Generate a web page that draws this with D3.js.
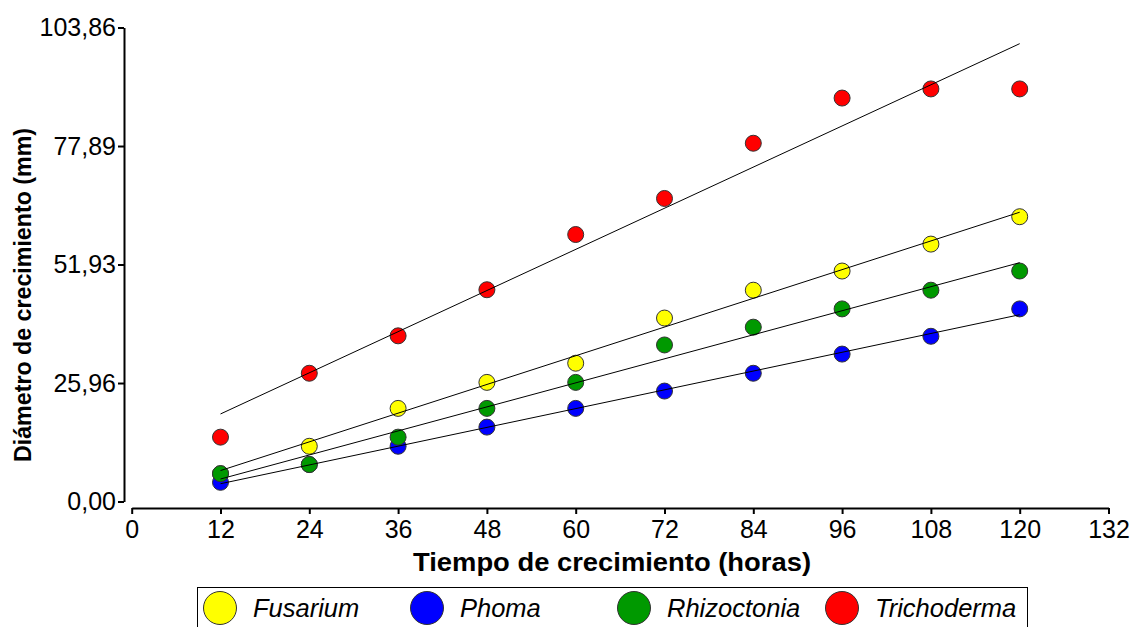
<!DOCTYPE html>
<html>
<head>
<meta charset="utf-8">
<script src="https://cdn.jsdelivr.net/npm/d3@7"></script>
<style>
  body { margin: 0; background: #fff; }
  text { font-family: "Liberation Sans", Arial, sans-serif; }
</style>
</head>
<body>
<div id="chart"></div>
<script>
////////////////////////////////////////////////////////////////////////
// Data

let hours = [12, 24, 36, 48, 60, 72, 84, 96, 108, 120];

let fusarium    = [6.1, 12.1, 20.4, 26.1, 30.3, 40.2, 46.3, 50.5, 56.4, 62.4];
let phoma       = [4.2, 8.1, 12.1, 16.3, 20.4, 24.2, 28.1, 32.3, 36.2, 42.2];
let rhizoctonia = [6.1, 8.1, 14.1, 20.4, 26.1, 34.3, 38.2, 42.2, 46.3, 50.5];
let trichoderma = [14.1, 28.1, 36.3, 46.4, 58.5, 66.4, 78.5, 88.4, 90.4, 90.4];

let seriesNames = ["Fusarium", "Phoma", "Rhizoctonia", "Trichoderma"];
let seriesColors = ["#ffff00", "#0000ff", "#009900", "#ff0000"];

let xTicks = [0, 12, 24, 36, 48, 60, 72, 84, 96, 108, 120, 132];
let yTicks = [0, 25.96, 51.93, 77.89, 103.86];

let series = [
  { name: "Fusarium", values: fusarium },
  { name: "Phoma", values: phoma },
  { name: "Rhizoctonia", values: rhizoctonia },
  { name: "Trichoderma", values: trichoderma }
];

////////////////////////////////////////////////////////////////////////
// svg

let width = 1144;
let height = 627;

let svg = d3.select("#chart")
  .append("svg")
  .attr("width", width).attr("height", height);

let xScale = d3.scaleLinear().domain([0, 132]).range([131.7, 1108.5]);
let yScale = d3.scaleLinear().domain([0, 103.86]).range([501.5, 27.5]);

let colormap = d3.scaleOrdinal(seriesNames, seriesColors);

// comma decimal separator
let fmt = function(d) { return d3.format(".2f")(d).replace(".", ","); };

// least squares line for each series
function fit(vals) {
  let mx = d3.mean(hours), my = d3.mean(vals);
  let sxy = d3.sum(hours, function(x, i) { return (x - mx) * (vals[i] - my); });
  let sxx = d3.sum(hours, function(x) { return (x - mx) * (x - mx); });
  let b = sxy / sxx;
  let a = my - b * mx;
  return function(x) { return a + b * x; };
}

////////////////////////////////////////
// axes

let yAxis = d3.axisLeft(yScale)
  .tickValues(yTicks)
  .tickFormat(fmt)
  .tickSize(6)
  .tickSizeOuter(0)
  .tickPadding(2);

let xAxis = d3.axisBottom(xScale)
  .tickValues(xTicks)
  .tickSize(6)
  .tickSizeOuter(0)
  .tickPadding(6);

let gy = svg.append("g")
  .attr("class", "axis")
  .attr("transform", "translate(124,0)")
  .call(yAxis);

let gx = svg.append("g")
  .attr("class", "axis")
  .attr("transform", "translate(0,508)")
  .call(xAxis);

svg.selectAll(".axis path, .axis line")
  .style("stroke", "#000")
  .style("stroke-width", 2);
svg.selectAll(".axis text")
  .style("font-family", "'Liberation Sans', Arial, sans-serif")
  .style("font-size", "25px")
  .style("fill", "#000");

// axis titles
svg.append("text")
  .attr("x", 612)
  .attr("y", 571)
  .attr("text-anchor", "middle")
  .attr("textLength", 398)
  .attr("lengthAdjust", "spacingAndGlyphs")
  .style("font-size", "26px")
  .style("font-weight", "bold")
  .text("Tiempo de crecimiento (horas)");

svg.append("text")
  .attr("transform", "translate(31,295) rotate(-90)")
  .attr("text-anchor", "middle")
  .attr("textLength", 334)
  .attr("lengthAdjust", "spacingAndGlyphs")
  .style("font-size", "23px")
  .style("font-weight", "bold")
  .text("Diámetro de crecimiento (mm)");

////////////////////////////////////////
// points, then fitted lines on top

series.forEach(function(s) {
  svg.append("g")
    .selectAll("circle")
    .data(s.values)
    .enter()
    .append("circle")
    .attr("cx", function(d, i) { return xScale(hours[i]); })
    .attr("cy", function(d) { return yScale(d); })
    .attr("r", 8)
    .style("fill", colormap(s.name))
    .style("stroke", "#333")
    .style("stroke-width", 1);
});

series.forEach(function(s) {
  let f = fit(s.values);
  let x0 = d3.min(hours), x1 = d3.max(hours);
  svg.append("path")
    .attr("d", d3.line()([[xScale(x0), yScale(f(x0))], [xScale(x1), yScale(f(x1))]]))
    .style("fill", "none")
    .style("stroke", "#000")
    .style("stroke-width", 1);
});

////////////////////////////////////////
// legend

let legendX = [220, 427, 634, 842];

svg.append("rect")
  .attr("x", 197.5).attr("y", 587.5)
  .attr("width", 830).attr("height", 60)
  .style("fill", "#fff")
  .style("stroke", "#000")
  .style("stroke-width", 1);

let items = svg.selectAll(".legend")
  .data(seriesNames)
  .enter()
  .append("g")
  .attr("class", "legend")
  .attr("transform", function(d, i) { return "translate(" + legendX[i] + ",608)"; });

items.append("circle")
  .attr("r", 16.5)
  .style("fill", function(d) { return colormap(d); })
  .style("stroke", "#333")
  .style("stroke-width", 1);

items.append("text")
  .attr("x", 33)
  .attr("y", 9)
  .style("font-size", "25.5px")
  .style("font-style", "italic")
  .text(function(d) { return d; });
</script>
</body>
</html>
